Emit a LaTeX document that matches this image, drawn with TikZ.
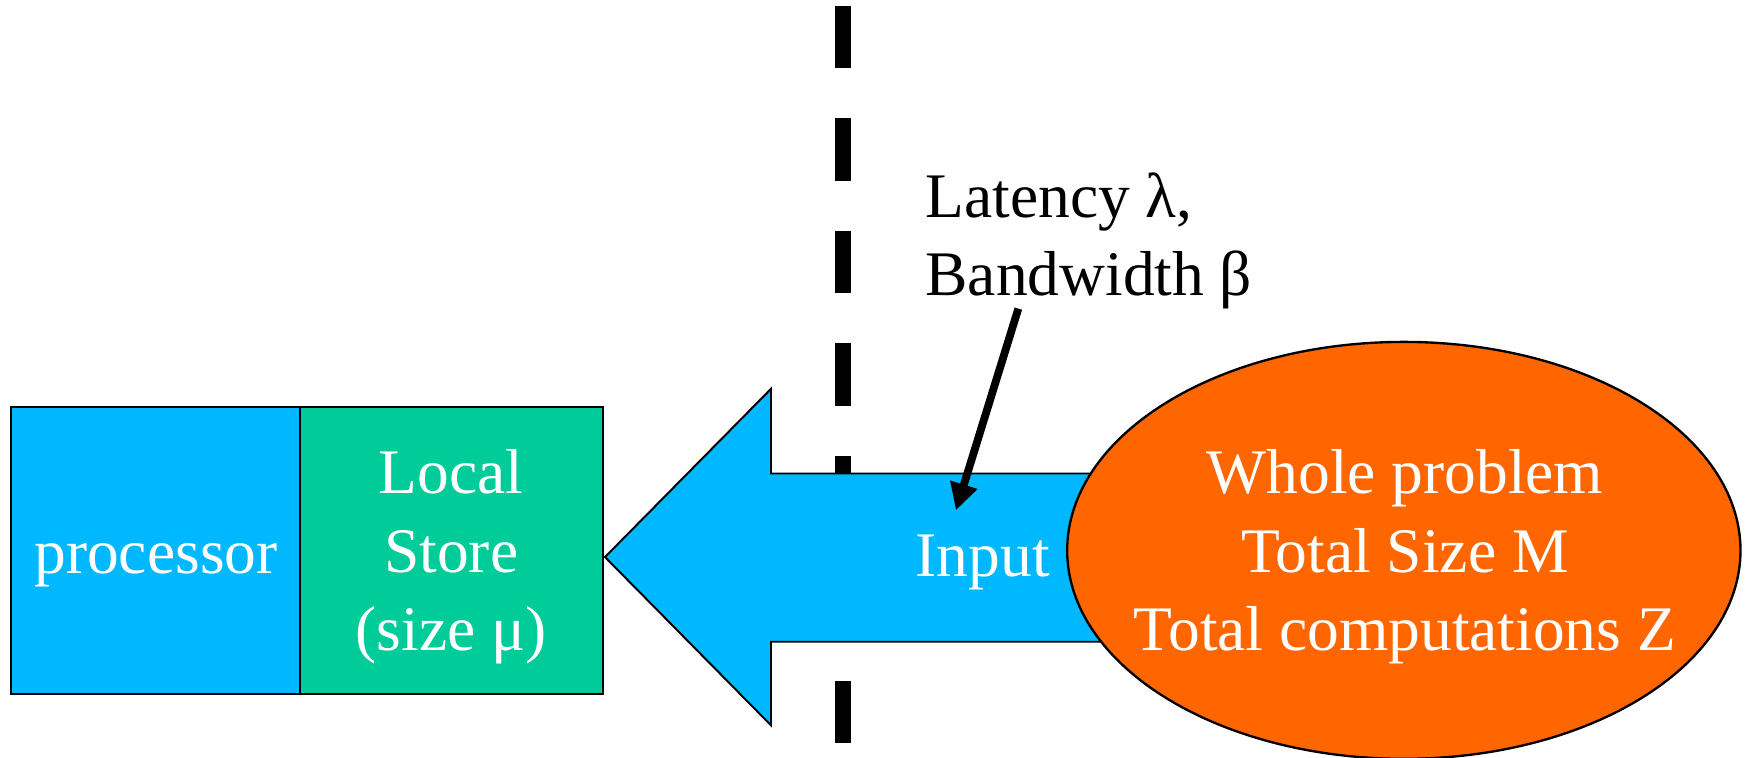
\documentclass[tikz,border=0pt]{standalone}
\usepackage{fontspec}
\setmainfont{Liberation Serif}
\usetikzlibrary{arrows.meta,shapes.geometric}
\definecolor{procblue}{HTML}{00B8FF}
\definecolor{storegreen}{HTML}{00CC99}
\definecolor{probor}{HTML}{FF6600}
\tikzset{
  boxnode/.style={draw, line width=0.5pt, inner sep=0pt, minimum height=2.58cm},
  whitetext/.style={text=white, align=center, inner sep=0pt},
  bigarrow/.style={draw, line width=0.5pt, fill=procblue},
  divider/.style={line width=0.144cm, dash pattern=on 0.56cm off 0.45cm},
  callout/.style={line width=0.07cm, -{Triangle[length=0.24cm,width=0.24cm]}},
}
\begin{document}
\begin{tikzpicture}[x=0.01cm,y=-0.01cm, font=\fontsize{16.2}{20}\selectfont]
\useasboundingbox (0,0) rectangle (1568,680);
% dashed boundary
\coordinate (dtop) at (757,5);
\coordinate (dbot) at (757,667);
\draw[divider] (dtop) -- (dbot);
% big input arrow
\draw[bigarrow] (543,500) -- (692,349) -- (692,425) -- (1000,425) -- (1000,576) -- (692,576) -- (692,651) -- cycle;
\node[whitetext] (input) at (882,505) {Input};
% whole problem ellipse
\node[ellipse, draw, line width=0.6pt, fill=probor, inner sep=0pt,
      minimum width=6.04cm, minimum height=3.74cm] (whole) at (1260,494) {};
\node[whitetext] (wholetext) at (1261,500) {Whole problem\\Total Size M\\Total computations Z};
% processor and local store
\node[boxnode, fill=procblue, minimum width=2.59cm] (proc) at (139.5,494) {};
\node[boxnode, fill=storegreen, minimum width=2.72cm] (store) at (405,494) {};
\node[whitetext] (proctext) at (140,507) {processor};
\node[whitetext] (storetext) at (405,500) {Local\\Store\\(size μ)};
% latency label and callout
\node[anchor=west, align=left, inner sep=0pt] (lat) at (830,216) {Latency λ,\\Bandwidth β};
\coordinate (cs) at (914,277);
\coordinate (ce) at (858,458);
\draw[callout] (cs) -- (ce);
\end{tikzpicture}
\end{document}
